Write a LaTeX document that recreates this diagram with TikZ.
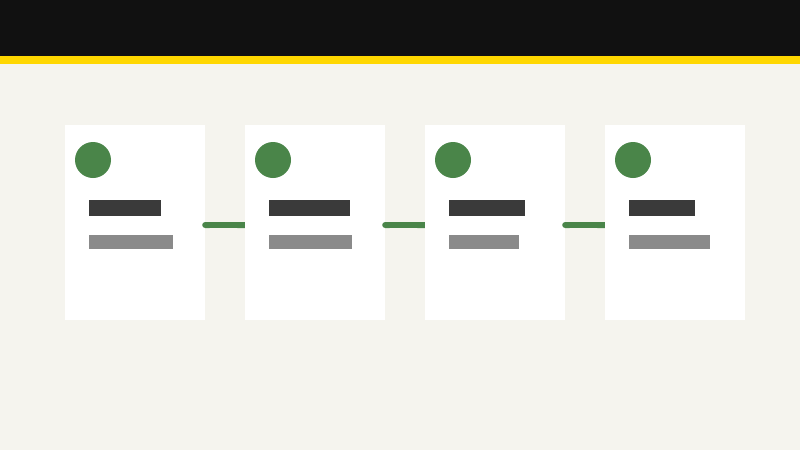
\documentclass[tikz,border=0pt]{standalone}
\usepackage{tikz}
\usetikzlibrary{arrows.meta}
\definecolor{pagebg}{HTML}{F5F4EE}
\definecolor{topbar}{HTML}{111111}
\definecolor{stripe}{HTML}{FFD700}
\definecolor{dotgreen}{HTML}{4A8549}
\definecolor{titlebar}{HTML}{3A3A3A}
\definecolor{subbar}{HTML}{8A8A8A}
\tikzset{
  card/.style={rectangle,fill=white,inner sep=0pt,minimum width=140pt,minimum height=195pt},
  dot/.style={circle,fill=dotgreen,inner sep=0pt,minimum size=36pt},
  titlebox/.style={rectangle,fill=titlebar,inner sep=0pt,anchor=north west,minimum height=16pt},
  subbox/.style={rectangle,fill=subbar,inner sep=0pt,anchor=north west,minimum height=14pt},
  link/.style={draw=dotgreen,line width=6pt,{Round Cap[]}-{Butt Cap[]}}
}
\begin{document}
\begin{tikzpicture}[scale=1.000000,x=1pt,y=-1pt]
\useasboundingbox (0.000000,0.000000) rectangle (800.000000,450.000000);
\fill[color=pagebg] (0.000000,0.000000) rectangle (800.000000,450.000000);
% Header bar and stripe
\fill[color=topbar] (0.000000,0.000000) rectangle (800.000000,56.000000);
\fill[color=stripe] (0.000000,56.000000) rectangle (800.000000,64.000000);
% Drawing cards
% Card 1
\node[card] (card1) at (135.000000,222.500000) {};
\node[dot] (dot1) at (93.000000,160.000000) {};
\node[titlebox,minimum width=72pt] (title1) at (89.000000,200.000000) {};
\node[subbox,minimum width=84pt] (sub1) at (89.000000,235.000000) {};
% Card 2
\node[card] (card2) at (315.000000,222.500000) {};
\node[dot] (dot2) at (273.000000,160.000000) {};
\node[titlebox,minimum width=81pt] (title2) at (269.000000,200.000000) {};
\node[subbox,minimum width=83pt] (sub2) at (269.000000,235.000000) {};
% Card 3
\node[card] (card3) at (495.000000,222.500000) {};
\node[dot] (dot3) at (453.000000,160.000000) {};
\node[titlebox,minimum width=76pt] (title3) at (449.000000,200.000000) {};
\node[subbox,minimum width=70pt] (sub3) at (449.000000,235.000000) {};
% Card 4
\node[card] (card4) at (675.000000,222.500000) {};
\node[dot] (dot4) at (633.000000,160.000000) {};
\node[titlebox,minimum width=66pt] (title4) at (629.000000,200.000000) {};
\node[subbox,minimum width=81pt] (sub4) at (629.000000,235.000000) {};
% Done with cards; drawing links
\draw[link] ([xshift=-3pt,yshift=-2.5pt]card1.east) -- ([yshift=-2.5pt]card2.west);
\draw[link] ([xshift=-3pt,yshift=-2.5pt]card2.east) -- ([yshift=-2.5pt]card3.west);
\draw[link] ([xshift=-3pt,yshift=-2.5pt]card3.east) -- ([yshift=-2.5pt]card4.west);
% Done with links
\end{tikzpicture}
\end{document}
